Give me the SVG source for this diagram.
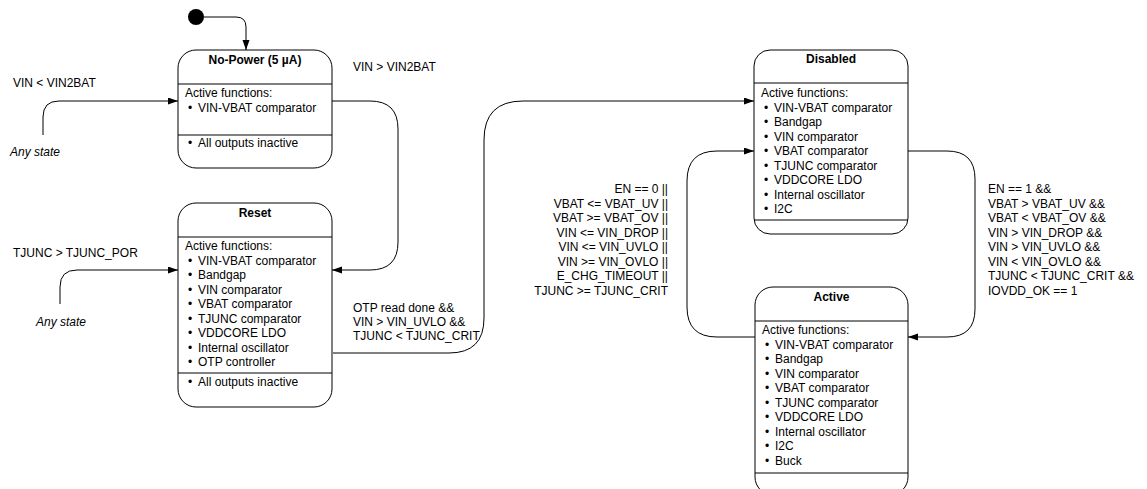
<svg xmlns="http://www.w3.org/2000/svg" width="1147" height="489" viewBox="0 0 1147 489">
<style>
text{font-family:"Liberation Sans",Arial,sans-serif;font-size:12px;fill:#000}
.t{font-weight:bold;text-anchor:middle}
.i{font-style:italic}
.r{text-anchor:end}
.box{fill:#fff;stroke:#000;stroke-width:1}
.div{stroke:#000;stroke-width:1}
.c{fill:none;stroke:#000;stroke-width:1}
</style>
<defs>
<marker id="ah" markerUnits="userSpaceOnUse" markerWidth="11" markerHeight="8" refX="10" refY="3.5" orient="auto">
<path d="M0,0 L10,3.5 L0,7 z" fill="#000"/>
</marker>
</defs>
<rect width="1147" height="489" fill="#fff"/>

<g id="connectors">
<circle cx="196" cy="17" r="8" fill="#000"/>
<path class="c" d="M204,17 H236 Q246,17 246,27 V50" marker-end="url(#ah)"/>
<path class="c" d="M43,135 V117 Q43,101 59,101 H178" marker-end="url(#ah)"/>
<path class="c" d="M332,101 H370 Q398,101 398,129 V242 Q398,270 370,270 H332" marker-end="url(#ah)"/>
<path class="c" d="M60,304 V287 Q60,270 77,270 H178" marker-end="url(#ah)"/>
<path class="c" d="M333,353 H449 Q484,353 484,318 V140 Q484,101 523,101 H754" marker-end="url(#ah)"/>
<path class="c" d="M755,337 H717 Q687,337 687,307 V181 Q687,151 717,151 H754" marker-end="url(#ah)"/>
<path class="c" d="M908,151 H947 Q975,151 975,179 V309 Q975,337 947,337 H908" marker-end="url(#ah)"/>
<text x="13" y="87">VIN &lt; VIN2BAT</text>
<text class="i" x="10" y="156">Any state</text>
<text x="353" y="71">VIN &gt; VIN2BAT</text>
<text x="13" y="257">TJUNC &gt; TJUNC_POR</text>
<text class="i" x="36" y="326">Any state</text>
<text x="353" y="312">OTP read done &amp;&amp;</text>
<text x="353" y="326">VIN &gt; VIN_UVLO &amp;&amp;</text>
<text x="353" y="340">TJUNC &lt; TJUNC_CRIT</text>
<g class="r">
<text class="r" x="668" y="193">EN == 0 ||</text>
<text class="r" x="668" y="207.5">VBAT &lt;= VBAT_UV ||</text>
<text class="r" x="668" y="222">VBAT &gt;= VBAT_OV ||</text>
<text class="r" x="668" y="236.5">VIN &lt;= VIN_DROP ||</text>
<text class="r" x="668" y="251">VIN &lt;= VIN_UVLO ||</text>
<text class="r" x="668" y="265.5">VIN &gt;= VIN_OVLO ||</text>
<text class="r" x="668" y="280">E_CHG_TIMEOUT ||</text>
<text class="r" x="668" y="294.5">TJUNC &gt;= TJUNC_CRIT</text>
</g>
<text x="988" y="193">EN == 1 &amp;&amp;</text>
<text x="988" y="207.5">VBAT &gt; VBAT_UV &amp;&amp;</text>
<text x="988" y="222">VBAT &lt; VBAT_OV &amp;&amp;</text>
<text x="988" y="236.5">VIN &gt; VIN_DROP &amp;&amp;</text>
<text x="988" y="251">VIN &gt; VIN_UVLO &amp;&amp;</text>
<text x="988" y="265.5">VIN &lt; VIN_OVLO &amp;&amp;</text>
<text x="988" y="280">TJUNC &lt; TJUNC_CRIT &amp;&amp;</text>
<text x="988" y="294.5">IOVDD_OK == 1</text>
</g>

<g id="no-power">
<rect class="box" x="178" y="50" width="154" height="118" rx="18"/>
<line class="div" x1="178" y1="84" x2="332" y2="84"/>
<line class="div" x1="178" y1="135" x2="332" y2="135"/>
<text class="t" x="255" y="64">No-Power (5 µA)</text>
<text x="185" y="97">Active functions:</text>
<text y="112"><tspan x="188">•</tspan><tspan x="198">VIN-VBAT comparator</tspan></text>
<text y="147"><tspan x="188">•</tspan><tspan x="198">All outputs inactive</tspan></text>
</g>

<g id="reset">
<rect class="box" x="178" y="203" width="154" height="204" rx="18"/>
<line class="div" x1="178" y1="237" x2="332" y2="237"/>
<line class="div" x1="178" y1="373" x2="332" y2="373"/>
<text class="t" x="255" y="217">Reset</text>
<text x="185" y="250">Active functions:</text>
<text y="264.5"><tspan x="188">•</tspan><tspan x="198">VIN-VBAT comparator</tspan></text>
<text y="279"><tspan x="188">•</tspan><tspan x="198">Bandgap</tspan></text>
<text y="293.5"><tspan x="188">•</tspan><tspan x="198">VIN comparator</tspan></text>
<text y="308"><tspan x="188">•</tspan><tspan x="198">VBAT comparator</tspan></text>
<text y="322.5"><tspan x="188">•</tspan><tspan x="198">TJUNC comparator</tspan></text>
<text y="337"><tspan x="188">•</tspan><tspan x="198">VDDCORE LDO</tspan></text>
<text y="351.5"><tspan x="188">•</tspan><tspan x="198">Internal oscillator</tspan></text>
<text y="366"><tspan x="188">•</tspan><tspan x="198">OTP controller</tspan></text>
<text y="386"><tspan x="188">•</tspan><tspan x="198">All outputs inactive</tspan></text>
</g>

<g id="disabled">
<rect class="box" x="754" y="50" width="154" height="184" rx="16"/>
<line class="div" x1="754" y1="83" x2="908" y2="83"/>
<line class="div" x1="754" y1="220" x2="908" y2="220"/>
<text class="t" x="831" y="63">Disabled</text>
<text x="761" y="97">Active functions:</text>
<text y="111.5"><tspan x="764">•</tspan><tspan x="774">VIN-VBAT comparator</tspan></text>
<text y="126"><tspan x="764">•</tspan><tspan x="774">Bandgap</tspan></text>
<text y="140.5"><tspan x="764">•</tspan><tspan x="774">VIN comparator</tspan></text>
<text y="155"><tspan x="764">•</tspan><tspan x="774">VBAT comparator</tspan></text>
<text y="169.5"><tspan x="764">•</tspan><tspan x="774">TJUNC comparator</tspan></text>
<text y="184"><tspan x="764">•</tspan><tspan x="774">VDDCORE LDO</tspan></text>
<text y="198.5"><tspan x="764">•</tspan><tspan x="774">Internal oscillator</tspan></text>
<text y="213"><tspan x="764">•</tspan><tspan x="774">I2C</tspan></text>
</g>

<g id="active">
<rect class="box" x="755" y="287" width="153" height="208" rx="18"/>
<line class="div" x1="755" y1="321" x2="908" y2="321"/>
<line class="div" x1="755" y1="473" x2="908" y2="473"/>
<text class="t" x="831.5" y="301">Active</text>
<text x="762" y="334">Active functions:</text>
<text y="348.5"><tspan x="765">•</tspan><tspan x="775">VIN-VBAT comparator</tspan></text>
<text y="363"><tspan x="765">•</tspan><tspan x="775">Bandgap</tspan></text>
<text y="377.5"><tspan x="765">•</tspan><tspan x="775">VIN comparator</tspan></text>
<text y="392"><tspan x="765">•</tspan><tspan x="775">VBAT comparator</tspan></text>
<text y="406.5"><tspan x="765">•</tspan><tspan x="775">TJUNC comparator</tspan></text>
<text y="421"><tspan x="765">•</tspan><tspan x="775">VDDCORE LDO</tspan></text>
<text y="435.5"><tspan x="765">•</tspan><tspan x="775">Internal oscillator</tspan></text>
<text y="450"><tspan x="765">•</tspan><tspan x="775">I2C</tspan></text>
<text y="464.5"><tspan x="765">•</tspan><tspan x="775">Buck</tspan></text>
</g>
</svg>
